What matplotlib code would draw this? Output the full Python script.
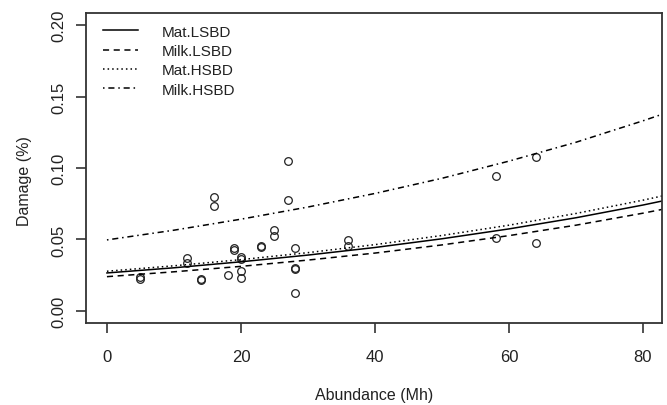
import matplotlib
matplotlib.use("Agg")
import matplotlib.pyplot as plt
import numpy as np

plt.rcParams['font.family'] = ['Liberation Sans', 'DejaVu Sans']

# observed points
abund = [5, 5, 12, 12, 14, 14, 16, 16, 18, 19, 19, 20, 20, 20, 20,
         23, 23, 25, 25, 27, 27, 28, 28, 28, 28, 36, 36, 58, 58, 64, 64]
damage = [0.0238, 0.0226, 0.0369, 0.0333, 0.0222, 0.0220, 0.0800, 0.0737,
          0.0254, 0.0441, 0.0429, 0.0380, 0.0364, 0.0278, 0.0231,
          0.0457, 0.0450, 0.0566, 0.0527, 0.1050, 0.0779,
          0.0441, 0.0298, 0.0292, 0.0128, 0.0494, 0.0457,
          0.0942, 0.0508, 0.1077, 0.0473]

# fitted curves
xfit = [0, 10, 20, 30, 40, 50, 60, 70, 80, 85]
mat_lsbd = [0.0266, 0.0302, 0.0344, 0.0391, 0.0444, 0.0505, 0.0574, 0.0652, 0.0741, 0.0790]
milk_lsbd = [0.0240, 0.0274, 0.0312, 0.0356, 0.0405, 0.0462, 0.0527, 0.0600, 0.0684, 0.0730]
mat_hsbd = [0.0278, 0.0316, 0.0359, 0.0408, 0.0464, 0.0528, 0.0600, 0.0682, 0.0775, 0.0826]
milk_hsbd = [0.0497, 0.0565, 0.0642, 0.0727, 0.0822, 0.0928, 0.1048, 0.1180, 0.1330, 0.1410]

xticks = [0, 20, 40, 60, 80]
yticks = [0.00, 0.05, 0.10, 0.15, 0.20]

txt = '#222222'
fig = plt.figure(figsize=(6.67, 4.06), dpi=100)
ax = fig.add_axes([0.1289, 0.2020, 0.8636, 0.7635])

ax.plot(abund, damage, 'o', ms=5.5, mfc='none', mec='#222222', mew=0.9, zorder=2)

lw = 1.1
ax.plot(xfit, mat_lsbd, color='black', lw=lw, ls='-', label='Mat.LSBD')
ax.plot(xfit, milk_lsbd, color='black', lw=lw, ls=(0, (4, 3)), label='Milk.LSBD')
ax.plot(xfit, mat_hsbd, color='black', lw=lw, ls=(0, (1, 2)), label='Mat.HSBD')
ax.plot(xfit, milk_hsbd, color='black', lw=lw, ls=(0, (1, 2.5, 4, 2.5)), label='Milk.HSBD')

ax.set_xlim(-3.13, 82.84)
ax.set_ylim(-0.0084, 0.2084)
ax.set_xticks(xticks)
ax.set_yticks(yticks)
ax.set_xticklabels([str(v) for v in xticks])
ax.set_yticklabels(['%.2f' % v for v in yticks], rotation=90, va='center')

for s in ax.spines.values():
    s.set_color('#333333')
    s.set_linewidth(1.3)
ax.tick_params(axis='both', length=7, width=1.2, color='#333333',
               labelsize=12, labelcolor=txt)
ax.tick_params(axis='x', pad=12)
ax.tick_params(axis='y', pad=7)

ax.set_xlabel('Abundance (Mh)', fontsize=11.5, color=txt)
ax.set_ylabel('Damage (%)', fontsize=11.5, color=txt)
ax.xaxis.set_label_coords(0.50, -0.205)
ax.yaxis.set_label_coords(-0.094, 0.46)

leg = ax.legend(loc='upper left', bbox_to_anchor=(0.03, 0.962), frameon=False,
                fontsize=11, handlelength=2.3, handletextpad=1.5,
                labelspacing=0.35, borderpad=0, borderaxespad=0)
for t in leg.get_texts():
    t.set_color(txt)

fig.savefig('out.png', dpi=100)
